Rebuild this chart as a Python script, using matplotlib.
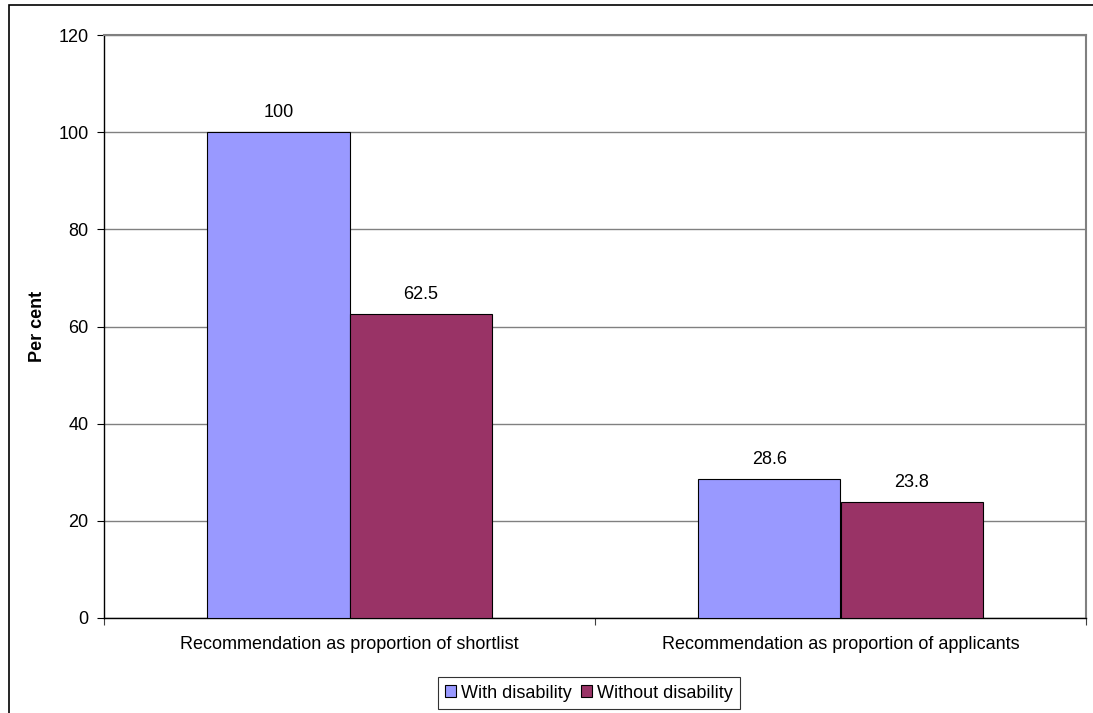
import numpy as np
import matplotlib.pyplot as plt
from matplotlib.patches import Rectangle

plt.rcParams['font.family'] = ['Liberation Sans', 'DejaVu Sans']

categories = ['Recommendation as proportion of shortlist',
              'Recommendation as proportion of applicants']
with_dis = [100, 28.6]
without_dis = [62.5, 23.8]
labels_with = ['100', '28.6']
labels_without = ['62.5', '23.8']

W, H = 1093, 713
fs = 13
fig = plt.figure(figsize=(W / 100, H / 100), dpi=100)
ax = fig.add_axes([104 / W, 1 - 618 / H, (1086 - 104) / W, (618 - 35) / H])

# outer chart border (only top and left visible)
fig.add_artist(Rectangle((9 / W, -0.1), 1.2, 1 - 5 / H + 0.1, transform=fig.transFigure,
                         fill=False, edgecolor='black', linewidth=1.2))

x = np.arange(len(categories))
bw = 0.29
b1 = ax.bar(x - bw / 2, with_dis, bw, color='#9999FF', edgecolor='black', linewidth=0.8,
            label='With disability', zorder=3)
b2 = ax.bar(x + bw / 2, without_dis, bw, color='#993366', edgecolor='black', linewidth=0.8,
            label='Without disability', zorder=3)
for bars, labs in ((b1, labels_with), (b2, labels_without)):
    for b, t in zip(bars, labs):
        ax.annotate(t, (b.get_x() + b.get_width() / 2, b.get_height()),
                    xytext=(0, 8), textcoords='offset points', ha='center', va='bottom',
                    fontsize=fs)

ax.set_xlim(-0.5, 1.5)
ax.set_ylim(0, 120)
ax.set_yticks(range(0, 121, 20))
ax.yaxis.grid(True, color='#808080', linewidth=1.0, zorder=0)
ax.tick_params(axis='y', labelsize=fs, length=5, direction='out', width=0.8, pad=6)
ax.set_xticks(x)
ax.set_xticklabels(categories, fontsize=fs)
ax.tick_params(axis='x', length=0, pad=13)
ax.set_xticks([-0.5, 0.5, 1.5], minor=True)
ax.tick_params(axis='x', which='minor', length=5, width=0.8, color='#404040')
ax.set_ylabel('Per cent', fontsize=fs, fontweight='bold', labelpad=9)

ax.spines['top'].set_color('#808080')
ax.spines['right'].set_color('#808080')
ax.spines['top'].set_linewidth(1.5)
ax.spines['right'].set_linewidth(1.5)
ax.spines['left'].set_linewidth(1.0)
ax.spines['bottom'].set_linewidth(1.0)

leg = ax.legend(loc='center', bbox_to_anchor=(589 / W, 1 - 693 / H), bbox_transform=fig.transFigure,
                ncol=2, fontsize=fs, frameon=True, fancybox=False, edgecolor='black',
                handlelength=0.6, handleheight=0.6, handletextpad=0.3, columnspacing=0.5,
                borderpad=0.4, borderaxespad=0)
leg.get_frame().set_linewidth(0.8)

fig.savefig('out.png', dpi=100)
